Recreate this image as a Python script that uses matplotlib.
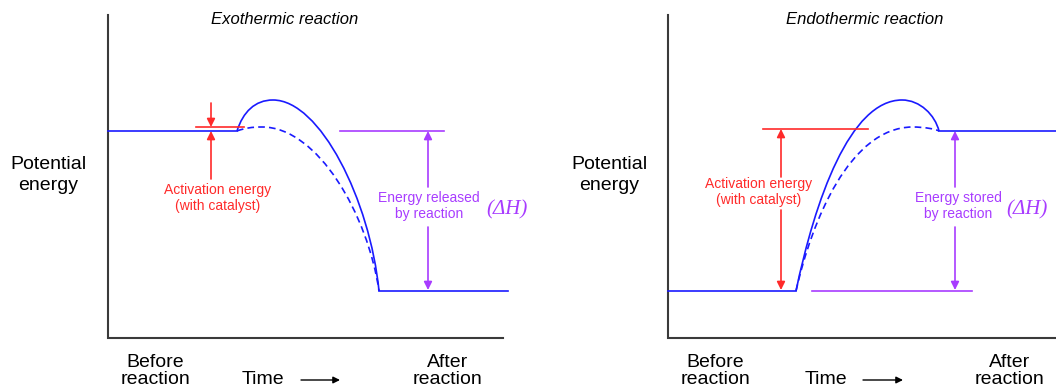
import matplotlib.pyplot as plt
from matplotlib.path import Path
from matplotlib.patches import PathPatch

plt.rcParams['font.family'] = ['Liberation Sans', 'DejaVu Sans']

# Coordenadas en pixeles de la imagen (x hacia la derecha, y hacia abajo)
W, H = 1056, 387
panel_x0 = [108, 668]          # eje vertical de cada panel
panel_x1 = [503, 1056]         # fin del eje horizontal
titles = ['Exothermic reaction', 'Endothermic reaction']
title_x = [285, 865]
label_x = [48, 609]

# Niveles de energia (reactivo, producto) y puntos de transicion
level_react = [131, 291]
level_prod = [291, 131]
x_start = [237, 796]
x_end = [379, 939]
x_level_end = [508, 1056]

# Curvas Bezier (puntos de control) sin y con catalizador
curve_solid = [
    [(237, 131), (243, 112), (255, 100), (273, 100), (320, 100), (370, 200), (379, 291)],
    [(796, 291), (815, 200), (850, 100), (902, 100), (920, 100), (935, 115), (939, 131)],
]
curve_dashed = [
    [(237, 131), (245, 128), (252, 127), (262, 127), (318, 127), (368, 215), (379, 291)],
    [(796, 291), (812, 220), (850, 128), (912, 127), (925, 127), (935, 129), (939, 131)],
]

# Energia de activacion (rojo)
cat_line = [(196, 244, 127), (763, 868, 129)]
act_arrows = [
    [((211, 103), (211, 127)), ((211, 179), (211, 131))],
    [((781, 177), (781, 129)), ((781, 210), (781, 290))],
]
act_text = [(218, 198), (759, 192)]

# Delta H (morado)
dh_line = [(340, 444, 131), (812, 972, 291)]
dh_x = [428, 955]
dh_label = ['Energy released\nby reaction', 'Energy stored\nby reaction']
dh_text_x = [429, 958]
dh_sym_x = [507, 1027]

before_x = [155, 715]
time_x = [263, 826]
time_arrow = [(301, 340), (863, 903)]
after_x = [448, 1010]

blue = '#1a1aff'
red = '#ff2a2a'
purple = '#a83cff'
axis_c = '#3a3a3a'

fig = plt.figure(figsize=(W / 100, H / 100), dpi=100)
ax = fig.add_axes([0, 0, 1, 1])
ax.set_xlim(0, W)
ax.set_ylim(H, 0)
ax.axis('off')


def arrow(tail, tip, color):
    ax.annotate('', xy=tip, xytext=tail,
                arrowprops=dict(arrowstyle='-|>', color=color, lw=1.2,
                                mutation_scale=12, shrinkA=0, shrinkB=0))


for i in range(2):
    x0 = panel_x0[i]
    # ejes
    ax.plot([x0, x0, panel_x1[i]], [15, 338, 338], color=axis_c, lw=1.5,
            solid_joinstyle='miter')
    ax.text(title_x[i], 20, titles[i], ha='center', va='center',
            fontsize=12, style='italic')
    ax.text(label_x[i], 175, 'Potential\nenergy', ha='center', va='center',
            fontsize=14, linespacing=1.25)

    # niveles
    ax.plot([x0, x_start[i]], [level_react[i]] * 2, color=blue, lw=1.2)
    ax.plot([x_end[i], x_level_end[i]], [level_prod[i]] * 2, color=blue, lw=1.2)

    codes = [Path.MOVETO] + [Path.CURVE4] * 6
    ax.add_patch(PathPatch(Path(curve_solid[i], codes), fc='none', ec=blue, lw=1.2))
    ax.add_patch(PathPatch(Path(curve_dashed[i], codes), fc='none', ec=blue, lw=1.2,
                           ls=(0, (4, 2.5))))

    # activacion
    xa, xb, yc = cat_line[i]
    ax.plot([xa, xb], [yc, yc], color=red, lw=1.2)
    for tail, tip in act_arrows[i]:
        arrow(tail, tip, red)
    ax.text(act_text[i][0], act_text[i][1], 'Activation energy\n(with catalyst)',
            ha='center', va='center', fontsize=10, color=red, linespacing=1.1)

    # delta H
    xa, xb, yc = dh_line[i]
    ax.plot([xa, xb], [yc, yc], color=purple, lw=1.2)
    arrow((dh_x[i], 187), (dh_x[i], 131), purple)
    arrow((dh_x[i], 227), (dh_x[i], 290), purple)
    ax.text(dh_text_x[i], 206, dh_label[i], ha='center', va='center',
            fontsize=10, color=purple, linespacing=1.1)
    ax.text(dh_sym_x[i], 210, '(ΔH)', ha='center', va='center', fontsize=15,
            color=purple, style='italic', family=['Liberation Serif', 'DejaVu Serif'])

    # eje de tiempo
    ax.text(before_x[i], 371, 'Before\nreaction', ha='center', va='center',
            fontsize=14, linespacing=1.0)
    ax.text(after_x[i], 371, 'After\nreaction', ha='center', va='center',
            fontsize=14, linespacing=1.0)
    ax.text(time_x[i], 380, 'Time', ha='center', va='center', fontsize=14)
    ax.annotate('', xy=(time_arrow[i][1], 380), xytext=(time_arrow[i][0], 380),
                arrowprops=dict(arrowstyle='-|>', color='black', lw=1.0,
                                mutation_scale=10, shrinkA=0, shrinkB=0))

fig.savefig('out.png', dpi=100)
